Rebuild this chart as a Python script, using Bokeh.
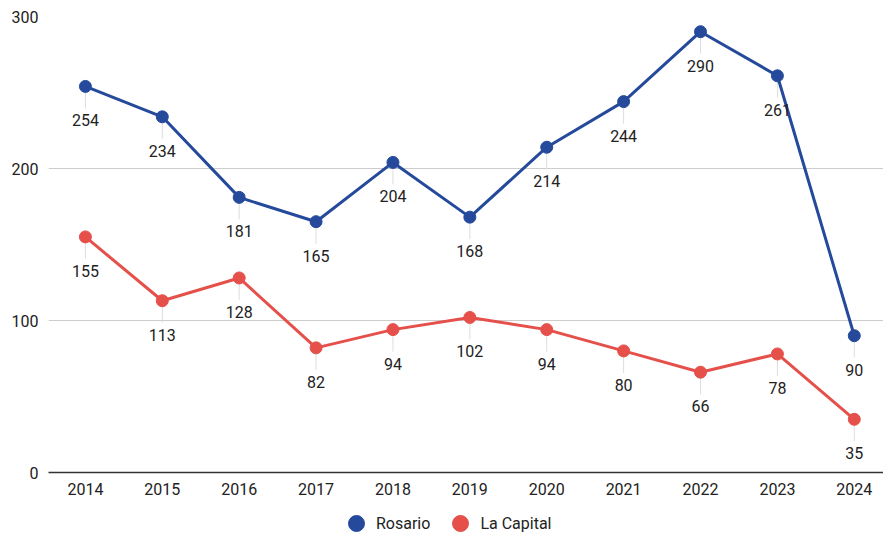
from math import pi
from bokeh.plotting import figure
from bokeh.layouts import column
from bokeh.models import ColumnDataSource, FixedTicker, Legend, LegendItem, Range1d
from bokeh.core.properties import value
from bokeh.embed import file_html
from bokeh.resources import INLINE

years = [2014, 2015, 2016, 2017, 2018, 2019, 2020, 2021, 2022, 2023, 2024]
rosario = [254, 234, 181, 165, 204, 168, 214, 244, 290, 261, 90]
la_capital = [155, 113, 128, 82, 94, 102, 94, 80, 66, 78, 35]
y_ticks = [0, 100, 200, 300]

BLUE = "#254a9c"
RED = "#e5504b"
FONT = "Roboto"
TXT = "#222222"

p = figure(width=883, height=500, output_backend="svg", toolbar_location=None,
           x_range=Range1d(2013.52, 2024.38), y_range=Range1d(0, 300),
           min_border_left=48, min_border_right=0, min_border_top=16, min_border_bottom=28)
p.outline_line_color = None
p.xgrid.grid_line_color = None
p.ygrid.grid_line_color = "#cccccc"
p.ygrid.ticker = FixedTicker(ticks=y_ticks)

p.xaxis.ticker = FixedTicker(ticks=years)
p.xaxis.axis_line_color = "#333333"
p.xaxis.axis_line_width = 1.5
p.xaxis.major_label_standoff = 10
p.yaxis.ticker = FixedTicker(ticks=y_ticks)
p.yaxis.axis_line_color = None
p.yaxis.major_label_standoff = 10
for ax in (p.xaxis, p.yaxis):
    ax.major_tick_line_color = None
    ax.minor_tick_line_color = None
    ax.major_tick_out = 0
    ax.major_tick_in = 0
    ax.minor_tick_out = 0
    ax.minor_tick_in = 0
    ax.major_label_text_font = FONT
    ax.major_label_text_font_size = "16px"
    ax.major_label_text_color = TXT

series = [(rosario, BLUE, "Rosario"), (la_capital, RED, "La Capital")]

for vals, col, name in series:
    src = ColumnDataSource(dict(x=years, y=vals))
    p.ray(x="x", y="y", length=22, length_units="screen", angle=-pi / 2,
          line_color="#dddddd", line_width=1, source=src)

for vals, col, name in reversed(series):
    src = ColumnDataSource(dict(x=years, y=vals, lab=[str(v) for v in vals]))
    p.line(x="x", y="y", line_color=col, line_width=3, source=src)
    p.scatter(x="x", y="y", size=12, fill_color=col, line_color=col, source=src)
    p.text(x="x", y="y", text="lab", source=src, text_font=value(FONT),
           text_font_size="16px", text_color=TXT, text_align="center",
           text_baseline="top", y_offset=28)

# legend strip below the chart
lg = figure(width=883, height=36, output_backend="svg", toolbar_location=None,
            x_range=Range1d(0, 1), y_range=Range1d(0, 1),
            min_border_left=0, min_border_right=0, min_border_top=0, min_border_bottom=0)
lg.axis.visible = False
lg.grid.visible = False
lg.outline_line_color = None

legend_items = []
for vals, col, name in series:
    # proxy renderer: its point lies outside this strip's ranges, only its legend swatch shows
    r = lg.scatter(x=years[:1], y=vals[:1], size=16, fill_color=col, line_color=col)
    legend_items.append(LegendItem(label=name, renderers=[r]))

legend = Legend(items=legend_items, orientation="horizontal", location=(288, -7),
                padding=0, margin=0, spacing=10, glyph_width=40, glyph_height=40,
                label_standoff=0, label_text_font=FONT, label_text_font_size="16px",
                label_text_color=TXT, border_line_color=None, background_fill_alpha=0)
lg.add_layout(legend, "center")

layout = column(p, lg, spacing=0)
open("out.html", "w").write(file_html(layout, INLINE))
